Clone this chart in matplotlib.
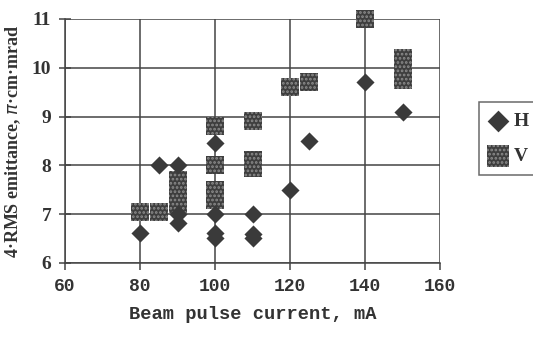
import numpy as np
import matplotlib.pyplot as plt

# beam pulse current (mA) and 4-RMS emittance (pi cm mrad)
h_current = [80, 85, 90, 90, 90, 100, 100, 100, 100, 110, 110, 110, 120, 125, 140, 150]
h_emit = [6.62, 8.0, 8.0, 7.0, 6.82, 8.45, 7.0, 6.62, 6.52, 7.0, 6.6, 6.52, 7.5, 8.5, 9.7, 9.1]

v_current = [80, 85, 90, 90, 90, 100, 100, 100, 100, 110, 110, 110, 120, 125, 140, 150, 150, 150]
v_emit = [7.05, 7.05, 7.2, 7.45, 7.7, 8.8, 8.0, 7.5, 7.3, 8.9, 7.95, 8.1, 9.6, 9.7, 11.0, 9.75, 10.0, 10.2]

xticks = [60, 80, 100, 120, 140, 160]
yticks = [6, 7, 8, 9, 10, 11]

plt.rcParams['hatch.linewidth'] = 1.3

fig = plt.figure(figsize=(5.33, 3.38), dpi=100)
ax = fig.add_axes([0.122, 0.222, 0.704, 0.722])

dark = '#3a3a3a'
ax.scatter(v_current, v_emit, marker='s', s=170, facecolor='#3e3e3e',
           edgecolor='#8c8c8c', linewidths=0, hatch='....', zorder=3,
           clip_on=False, label='V')
ax.scatter(h_current, h_emit, marker='D', s=85, color=dark, linewidths=0,
           zorder=4, clip_on=False, label='H')

ax.set_xlim(60, 160)
ax.set_ylim(6, 11)
ax.set_xticks(xticks)
ax.set_yticks(yticks)
ax.grid(True, color='#444444', linewidth=1.1)
ax.set_axisbelow(True)
for s in ax.spines.values():
    s.set_color('#444444')
    s.set_linewidth(1.1)
ax.spines['top'].set_visible(False)
ax.spines['right'].set_visible(False)

ax.tick_params(axis='y', direction='inout', length=8, width=1.1, color='#444444', pad=6)
ax.tick_params(axis='x', direction='out', length=5, width=1.1, color='#444444', pad=6)
for lab in ax.get_yticklabels():
    lab.set_fontfamily('Liberation Serif')
    lab.set_fontweight('bold')
    lab.set_fontsize(14)
    lab.set_color('#333333')
for lab in ax.get_xticklabels():
    lab.set_fontfamily('Liberation Mono')
    lab.set_fontweight('bold')
    lab.set_fontsize(13)
    lab.set_color('#333333')

ax.set_ylabel('4·RMS emittance, $\\pi$·cm·mrad', fontfamily='Liberation Serif',
              fontweight='bold', fontsize=13, color='#333333', labelpad=6)
ax.set_xlabel('Beam pulse current, mA', fontfamily='Liberation Mono',
              fontweight='bold', fontsize=13.5, color='#333333', labelpad=8)

handles, labels = ax.get_legend_handles_labels()
leg = fig.legend(handles[::-1], labels[::-1], loc='upper left',
                 bbox_to_anchor=(0.898, 0.697), frameon=True, fancybox=False,
                 handletextpad=0.3, borderpad=0.5, labelspacing=0.9,
                 handlelength=1.0, borderaxespad=0, markerscale=1.2,
                 prop={'family': 'Liberation Serif', 'weight': 'bold', 'size': 14})
leg.get_frame().set_edgecolor('#444444')
leg.get_frame().set_linewidth(1.1)
for t in leg.get_texts():
    t.set_color('#333333')

fig.savefig('out.png', dpi=100)
